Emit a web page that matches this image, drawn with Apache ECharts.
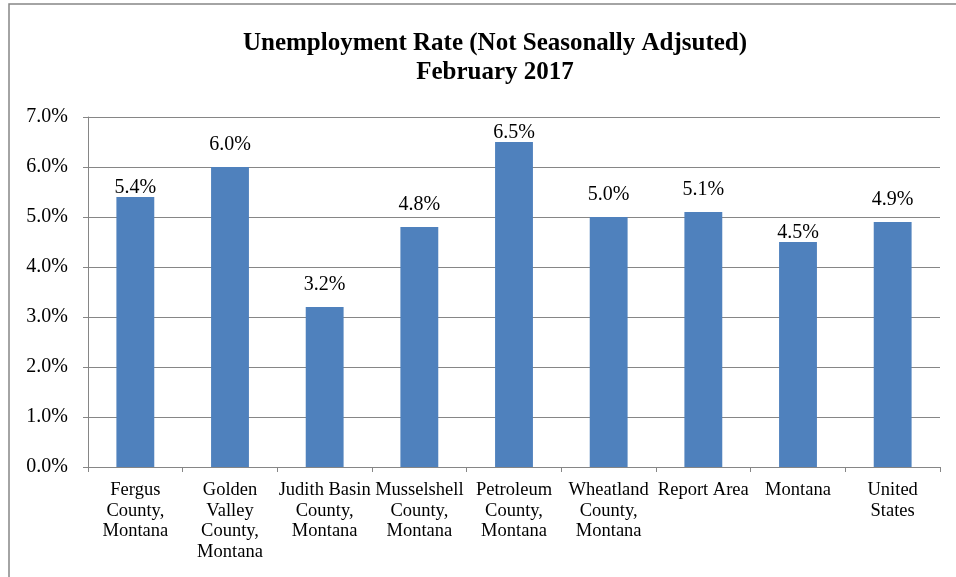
<!DOCTYPE html>
<html>
<head>
<meta charset="utf-8">
<script src="https://cdn.jsdelivr.net/npm/echarts@6/dist/echarts.min.js"></script>
<style>
  html, body { margin: 0; padding: 0; background: #fff; }
  #chart { width: 956px; height: 577px; }
</style>
</head>
<body>
<div id="chart"></div>
<script>
// Unemployment rates, February 2017 (not seasonally adjusted)
const categories = [
  'Fergus\nCounty,\nMontana',
  'Golden\nValley\nCounty,\nMontana',
  'Judith Basin\nCounty,\nMontana',
  'Musselshell\nCounty,\nMontana',
  'Petroleum\nCounty,\nMontana',
  'Wheatland\nCounty,\nMontana',
  'Report Area',
  'Montana',
  'United\nStates'
];
const rates = [5.4, 6.0, 3.2, 4.8, 6.5, 5.0, 5.1, 4.5, 4.9];
const titleLines = ['Unemployment Rate (Not Seasonally Adjsuted)', 'February 2017'];

const serif = '"Liberation Serif", "Times New Roman", serif';
const grey = '#868686';

// Value labels sit well above their bar, but drop down close to the bar
// whenever the raised position would run across a gridline.
const LABEL_FAR = 12;
const LABEL_NEAR = -1;
function labelDistance(v) {
  const lo = v + 0.32, hi = v + 0.62;
  return Math.floor(hi) >= lo ? LABEL_NEAR : LABEL_FAR;
}

const chart = echarts.init(document.getElementById('chart'), null, { renderer: 'canvas' });
chart.setOption({
  animation: false,
  backgroundColor: '#fff',
  title: {
    text: titleLines.join('\n'),
    left: 490,
    textAlign: 'center',
    top: 24,
    textStyle: {
      fontFamily: serif,
      fontWeight: 'bold',
      fontSize: 25,
      lineHeight: 29,
      color: '#000'
    }
  },
  graphic: [{
    type: 'polyline',
    shape: { points: [[9, 600], [9, 4], [970, 4]] },
    style: { stroke: grey, lineWidth: 1.5, fill: null },
    silent: true
  }],
  grid: { left: 88, right: 16, top: 117, bottom: 110, containLabel: false },
  xAxis: {
    type: 'category',
    data: categories,
    axisLine: { lineStyle: { color: grey, width: 1 } },
    axisTick: { show: true, length: 5, lineStyle: { color: grey } },
    axisLabel: {
      interval: 0,
      margin: 13,
      fontFamily: serif,
      fontSize: 18.5,
      lineHeight: 20.5,
      color: '#000'
    }
  },
  yAxis: {
    type: 'value',
    min: 0,
    max: 7,
    interval: 1,
    axisLine: { show: true, lineStyle: { color: grey, width: 1 } },
    axisTick: { show: true, length: 5, lineStyle: { color: grey } },
    splitLine: { lineStyle: { color: grey, width: 1 } },
    axisLabel: {
      margin: 20,
      fontFamily: serif,
      fontSize: 20,
      color: '#000',
      formatter: v => v.toFixed(1) + '%'
    }
  },
  series: [{
    type: 'bar',
    data: rates.map(v => ({ value: v, label: { distance: labelDistance(v) } })),
    barCategoryGap: '60%',
    itemStyle: { color: '#4F81BD' },
    label: {
      show: true,
      position: 'top',
      fontFamily: serif,
      fontSize: 20,
      color: '#000',
      formatter: p => p.value.toFixed(1) + '%'
    }
  }]
});
</script>
</body>
</html>
